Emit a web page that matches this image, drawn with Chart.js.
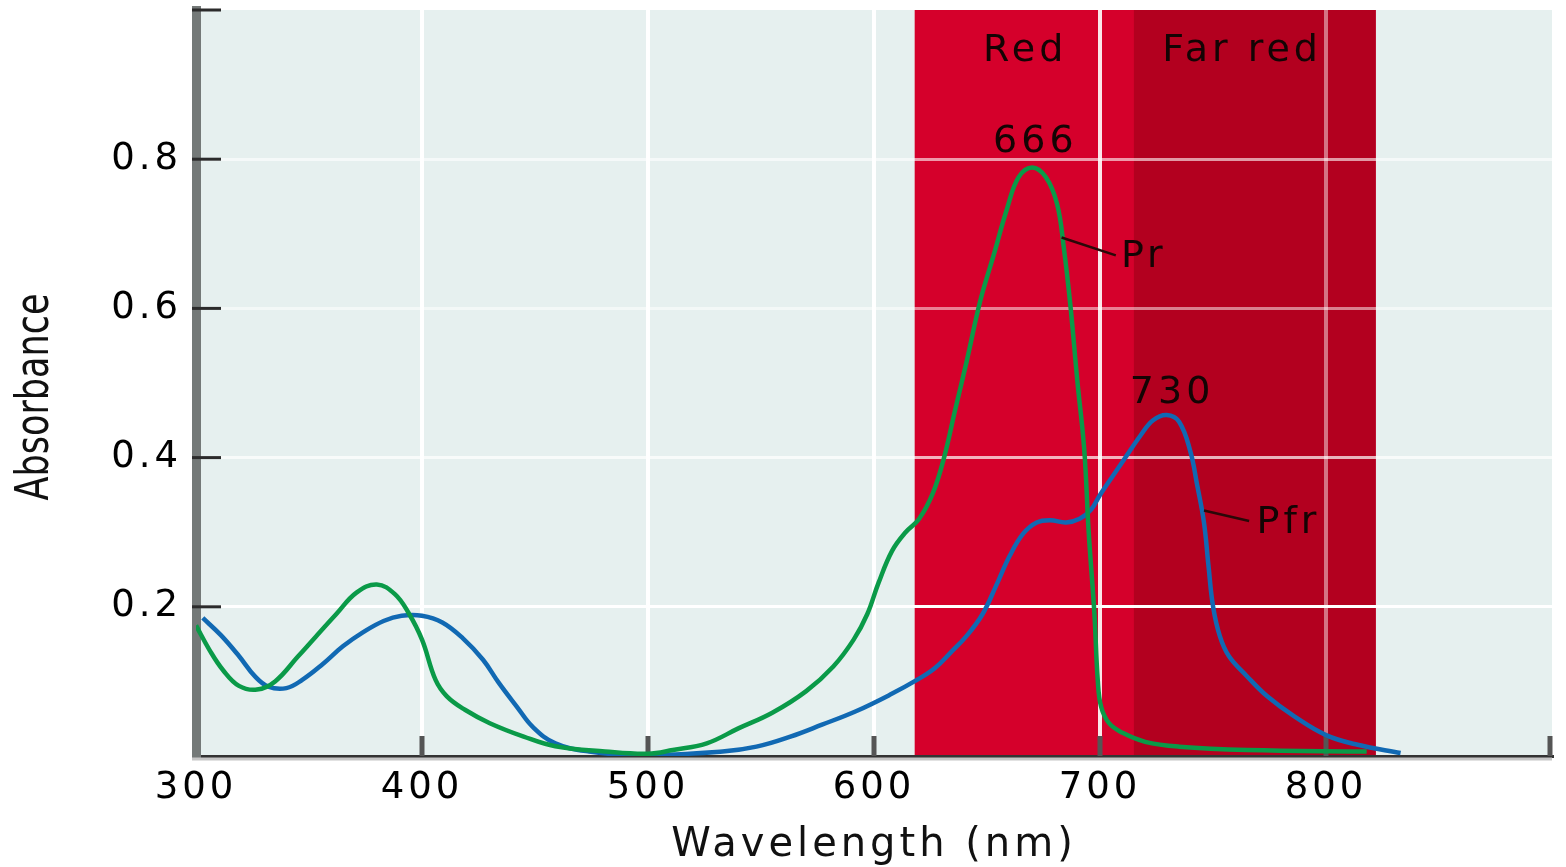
<!DOCTYPE html>
<html>
<head>
<meta charset="utf-8">
<script src="https://cdn.jsdelivr.net/npm/chart.js@4.4.1/dist/chart.umd.min.js"></script>
<style>
    html, body { margin: 0; padding: 0; background: #fff; }
    #chart { display: block; }
</style>
</head>
<body>
<canvas id="chart" width="1566" height="867"></canvas>
<script>
// Phytochrome absorption spectra
const prWavelength = [300, 306, 312, 319, 327, 335, 345, 353, 362, 371, 380, 388, 394, 400, 406, 411, 419, 430, 445, 459,
    481, 500, 511, 526, 540, 555, 570, 582, 591, 597, 602, 608, 614, 620, 626, 631, 636, 641, 647, 653, 659,
    664, 670, 676, 681, 684, 687, 690, 693, 695, 697.5, 699, 700.5, 704, 710, 720, 735, 765, 818];
const prAbsorbance = [0.175, 0.142, 0.115, 0.094, 0.089, 0.100, 0.133, 0.160, 0.190, 0.219, 0.230, 0.217, 0.192, 0.156, 0.102, 0.080, 0.062, 0.044, 0.026, 0.013,
    0.006, 0.003, 0.008, 0.017, 0.037, 0.058, 0.087, 0.120, 0.156, 0.190, 0.232, 0.275, 0.300, 0.318, 0.352, 0.400, 0.465, 0.529, 0.610, 0.672, 0.735,
    0.776, 0.789, 0.776, 0.740, 0.681, 0.601, 0.502, 0.412, 0.300, 0.192, 0.102, 0.066, 0.044, 0.031, 0.019, 0.0125, 0.008, 0.006];

const pfrWavelength = [303, 311, 319, 326, 332, 340, 347, 356, 365, 374, 383, 391, 400, 409, 418, 427, 434, 442, 449,
    459, 474, 496, 533, 548, 563, 577, 592, 607, 619, 627, 634, 641, 648, 654, 660, 666, 672, 678, 685, 691, 696, 700, 709,
    718, 723.5, 729.5, 735, 740, 743, 746, 748, 750, 753, 757, 765, 774, 786, 800, 814, 833];
const pfrAbsorbance = [0.185, 0.162, 0.134, 0.107, 0.093, 0.091, 0.102, 0.123, 0.147, 0.166, 0.181, 0.188, 0.188, 0.179, 0.158, 0.129, 0.098, 0.066, 0.039,
    0.017, 0.006, 0.001, 0.006, 0.0125, 0.026, 0.042, 0.060, 0.082, 0.102, 0.118, 0.139, 0.161, 0.190, 0.228, 0.268, 0.298, 0.313, 0.316, 0.313, 0.318, 0.330, 0.350, 0.390,
    0.430, 0.450, 0.457, 0.448, 0.408, 0.363, 0.313, 0.255, 0.201, 0.161, 0.134, 0.107, 0.080, 0.053, 0.028, 0.015, 0.004];

// light bands (nm)
const redBand = [618, 822];
const farRedBand = [715, 822];

// text notes: [text, wavelength, absorbance]
const notes = [
    ['Red', 666, 0.945],
    ['Far red', 762, 0.945],
    ['666', 670.5, 0.823],
    ['730', 731, 0.487],
    ['Pr', 718.5, 0.669],
    ['Pfr', 782.5, 0.312]
];
// leader lines: [x1, y1, x2, y2] in data units
const leaders = [
    [683, 0.695, 707, 0.671],
    [746, 0.329, 766, 0.315]
];

const FONT = 'DejaVu Sans';
const SPACING = '4px';

const yGridAlpha = { '0.2': 1, '0.4': 0.7, '0.6': 0.5, '0.8': 0.6 };
const xGridAlpha = { '400': 1, '500': 1, '600': 1, '700': 0.9, '800': 0.45 };

const decor = {
    id: 'decor',
    beforeLayout(chart) {
        chart.ctx.letterSpacing = SPACING;
    },
    beforeDraw(chart) {
        const { ctx, chartArea: a, scales: { x } } = chart;
        ctx.letterSpacing = SPACING;
        ctx.save();
        ctx.fillStyle = '#e6f0ef';
        ctx.fillRect(a.left, a.top, a.right - a.left, a.bottom - a.top);
        let x0 = x.getPixelForValue(redBand[0]);
        let x1 = x.getPixelForValue(redBand[1]);
        ctx.fillStyle = '#d5002b';
        ctx.fillRect(x0, a.top, x1 - x0, a.bottom - a.top);
        x0 = x.getPixelForValue(farRedBand[0]);
        x1 = x.getPixelForValue(farRedBand[1]);
        ctx.fillStyle = '#b3001f';
        ctx.fillRect(x0, a.top, x1 - x0, a.bottom - a.top);
        ctx.restore();
    },
    beforeDatasetsDraw(chart) {
        const { ctx, chartArea: a, scales: { x, y } } = chart;
        ctx.save();
        // light shadow under the bottom axis
        ctx.strokeStyle = '#c6c6c6';
        ctx.lineWidth = 3;
        ctx.beginPath();
        ctx.moveTo(a.left - 4, a.bottom + 3);
        ctx.lineTo(a.right, a.bottom + 3);
        ctx.stroke();
        // inner tick marks
        ctx.strokeStyle = '#2b2b2b';
        ctx.lineWidth = 3;
        y.ticks.forEach(t => {
            if (t.value <= 0) return;
            const py = y.getPixelForValue(t.value);
            ctx.beginPath();
            ctx.moveTo(a.left - 4, py);
            ctx.lineTo(a.left + 25, py);
            ctx.stroke();
        });
        ctx.strokeStyle = '#555';
        ctx.lineWidth = 5;
        x.ticks.forEach(t => {
            if (t.value <= 300) return;
            const px = Math.min(x.getPixelForValue(t.value), a.right - 2);
            ctx.beginPath();
            ctx.moveTo(px, a.bottom);
            ctx.lineTo(px, a.bottom - 20);
            ctx.stroke();
        });
        ctx.restore();
    },
    afterDraw(chart) {
        const { ctx, scales: { x, y } } = chart;
        ctx.save();
        ctx.strokeStyle = '#2a0808';
        ctx.lineWidth = 2.5;
        leaders.forEach(l => {
            ctx.beginPath();
            ctx.moveTo(x.getPixelForValue(l[0]), y.getPixelForValue(l[1]));
            ctx.lineTo(x.getPixelForValue(l[2]), y.getPixelForValue(l[3]));
            ctx.stroke();
        });
        ctx.letterSpacing = SPACING;
        ctx.fillStyle = '#140404';
        ctx.font = `38px "${FONT}"`;
        ctx.textAlign = 'center';
        ctx.textBaseline = 'middle';
        notes.forEach(n => {
            ctx.fillText(n[0], x.getPixelForValue(n[1]) + 2, y.getPixelForValue(n[2]));
        });
        // y axis title, stretched sideways like the source
        ctx.letterSpacing = '0px';
        ctx.translate(36, 397);
        ctx.rotate(-Math.PI / 2);
        ctx.scale(1, 1.3);
        ctx.fillStyle = '#111';
        ctx.font = `35px "${FONT}"`;
        ctx.fillText('Absorbance', 0, 0);
        ctx.restore();
    }
};

new Chart(document.getElementById('chart'), {
    type: 'line',
    data: {
        datasets: [
            {
                label: 'Pr',
                data: prWavelength.map((w, i) => ({ x: w, y: prAbsorbance[i] })),
                borderColor: '#0a9a48',
                borderWidth: 4.5,
                tension: 0.4,
                pointRadius: 0,
                fill: false
            },
            {
                label: 'Pfr',
                data: pfrWavelength.map((w, i) => ({ x: w, y: pfrAbsorbance[i] })),
                borderColor: '#1169b3',
                borderWidth: 4.5,
                tension: 0.4,
                pointRadius: 0,
                fill: false
            }
        ]
    },
    options: {
        responsive: false,
        animation: false,
        layout: { padding: { left: 0, right: 14, top: 10, bottom: 0 } },
        plugins: {
            legend: { display: false },
            tooltip: { enabled: false }
        },
        scales: {
            x: {
                type: 'linear',
                min: 300,
                max: 900,
                ticks: {
                    stepSize: 100,
                    padding: 10,
                    color: '#000',
                    font: { family: FONT, size: 37 },
                    maxRotation: 0,
                    callback: v => v >= 900 ? '' : String(v)
                },
                grid: {
                    drawTicks: false,
                    lineWidth: 4,
                    color: c => {
                        const a = xGridAlpha[String(c.tick.value)];
                        return a ? `rgba(255,255,255,${a})` : 'rgba(0,0,0,0)';
                    }
                },
                border: { color: '#333', width: 3 },
                title: {
                    display: true,
                    text: 'Wavelength (nm)',
                    color: '#111',
                    font: { family: FONT, size: 40, lineHeight: 1.05 },
                    padding: { top: 0, bottom: 0 }
                },
                afterFit(s) {
                    s.height = 111;
                    s.paddingLeft = 0;
                    s.paddingRight = 0;
                }
            },
            y: {
                min: 0,
                max: 1,
                ticks: {
                    stepSize: 0.2,
                    padding: 14,
                    color: '#000',
                    font: { family: FONT, size: 37 },
                    callback: v => (v < 0.01 || v > 0.99) ? '' : v.toFixed(1)
                },
                grid: {
                    drawTicks: false,
                    lineWidth: 3,
                    color: c => {
                        const a = yGridAlpha[c.tick.value.toFixed(1)];
                        return a ? `rgba(255,255,255,${a})` : 'rgba(0,0,0,0)';
                    }
                },
                border: { color: '#747978', width: 9 },
                afterFit(s) {
                    s.width = 196;
                    s.paddingTop = 0;
                    s.paddingBottom = 0;
                }
            }
        }
    },
    plugins: [decor]
});
</script>
</body>
</html>
